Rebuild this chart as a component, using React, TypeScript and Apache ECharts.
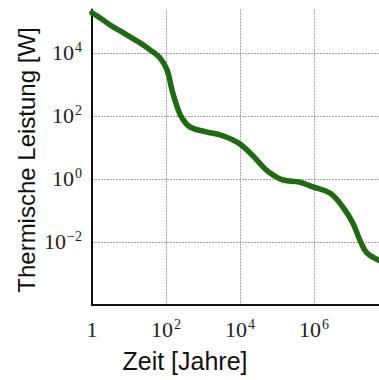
import React, { useEffect, useRef } from "react";
import * as echarts from "echarts";

// Time in years (x) and thermal power in watts (y)
const timeYears = [
  1, 1.66, 3.09, 5.75, 10.7, 20, 37, 69, 107, 145, 200, 269, 447, 1290, 2880,
  6460, 1.0e4, 1.66e4, 2.88e4, 4.79e4, 7.76e4, 1.45e5, 4.17e5, 9.3e5, 2.69e6,
  6.0e6, 1.12e7, 1.74e7, 2.69e7, 5.37e7, 1.0e8,
];
const powerWatts = [
  1.86e5, 1.29e5, 7.76e4, 5.0e4, 3.24e4, 2.09e4, 1.26e4, 6.9e3, 2.88e3, 676,
  195, 87, 44.7, 30.9, 25.1, 17.4, 12.9, 7.76, 3.98, 2.09, 1.35, 0.93, 0.79,
  0.56, 0.36, 0.129, 0.04, 0.0115, 0.0045, 0.0027, 0.0019,
];
const xTickExponents = [0, 2, 4, 6];
const yTickExponents = [-2, 0, 2, 4];

const xMin = 1;
const xMax = Math.pow(10, 7.757);
const yMin = 1e-4;
const yMax = Math.pow(10, 5.38);

function expOf(v: number): number | null {
  const e = Math.log10(v);
  const r = Math.round(e);
  return Math.abs(e - r) < 1e-6 ? r : null;
}

function supText(e: number): string {
  return String(e).replace("-", "\u2212");
}

export default function App() {
  const ref = useRef<HTMLDivElement>(null);
  useEffect(() => {
    if (!ref.current) return;
    const chart = echarts.init(ref.current, undefined, { renderer: "svg" });
    const serif = "'Liberation Serif', 'DejaVu Serif', serif";
    const labelRich = {
      b: { fontFamily: serif, fontSize: 22, color: "#222", lineHeight: 24 },
      sup: {
        fontFamily: serif,
        fontSize: 14,
        color: "#222",
        verticalAlign: "top" as const,
        padding: [0, 0, 10, 1],
      },
    };
    const gridLine = {
      show: true,
      showMinLine: false,
      showMaxLine: false,
      lineStyle: { color: "#a0a0a0", width: 1, type: [2, 1] },
    };
    chart.setOption({
      animation: false,
      backgroundColor: "#ffffff",
      grid: { left: 92, right: 0, top: 9.5, bottom: 75, containLabel: false },
      xAxis: {
        type: "log",
        logBase: 10,
        min: xMin,
        max: xMax,
        interval: 2,
        axisLine: { show: true, lineStyle: { color: "#111", width: 2 } },
        axisTick: { show: false },
        splitLine: gridLine,
        axisLabel: {
          margin: 12,
          showMaxLabel: false,
          formatter: (v: number) => {
            const e = expOf(v);
            if (e === null || !xTickExponents.includes(e)) return "";
            if (e === 0) return "{b|1}";
            return `{b|10}{sup|${supText(e)}}`;
          },
          rich: labelRich,
        },
      },
      yAxis: {
        type: "log",
        logBase: 10,
        min: yMin,
        max: yMax,
        interval: 2,
        axisLine: { show: true, lineStyle: { color: "#111", width: 2 } },
        axisTick: { show: false },
        splitLine: gridLine,
        axisLabel: {
          margin: 10,
          showMaxLabel: false,
          formatter: (v: number) => {
            const e = expOf(v);
            if (e === null || !yTickExponents.includes(e)) return "";
            return `{b|10}{sup|${supText(e)}}`;
          },
          rich: labelRich,
        },
      },
      series: [
        {
          type: "line",
          data: timeYears.map((t, i) => [t, powerWatts[i]]),
          smooth: 0.4,
          showSymbol: false,
          clip: true,
          lineStyle: { color: "#1f6b12", width: 5.5, cap: "round", join: "round" },
        },
      ],
      graphic: [
        {
          type: "text",
          x: 26,
          y: 160,
          rotation: Math.PI / 2,
          style: {
            text: "Thermische Leistung [W]",
            fontFamily: "'Liberation Sans', Arial, sans-serif",
            fontSize: 24,
            fill: "#111",
            align: "center",
            verticalAlign: "middle",
          },
        },
        {
          type: "text",
          x: 185,
          y: 361,
          style: {
            text: "Zeit [Jahre]",
            fontFamily: "'Liberation Sans', Arial, sans-serif",
            fontSize: 25,
            fill: "#111",
            align: "center",
            verticalAlign: "middle",
          },
        },
      ],
    });
    return () => chart.dispose();
  }, []);
  return (
    <div
      ref={ref}
      style={{ position: "absolute", left: 0, top: 0, width: 379, height: 380 }}
    />
  );
}
